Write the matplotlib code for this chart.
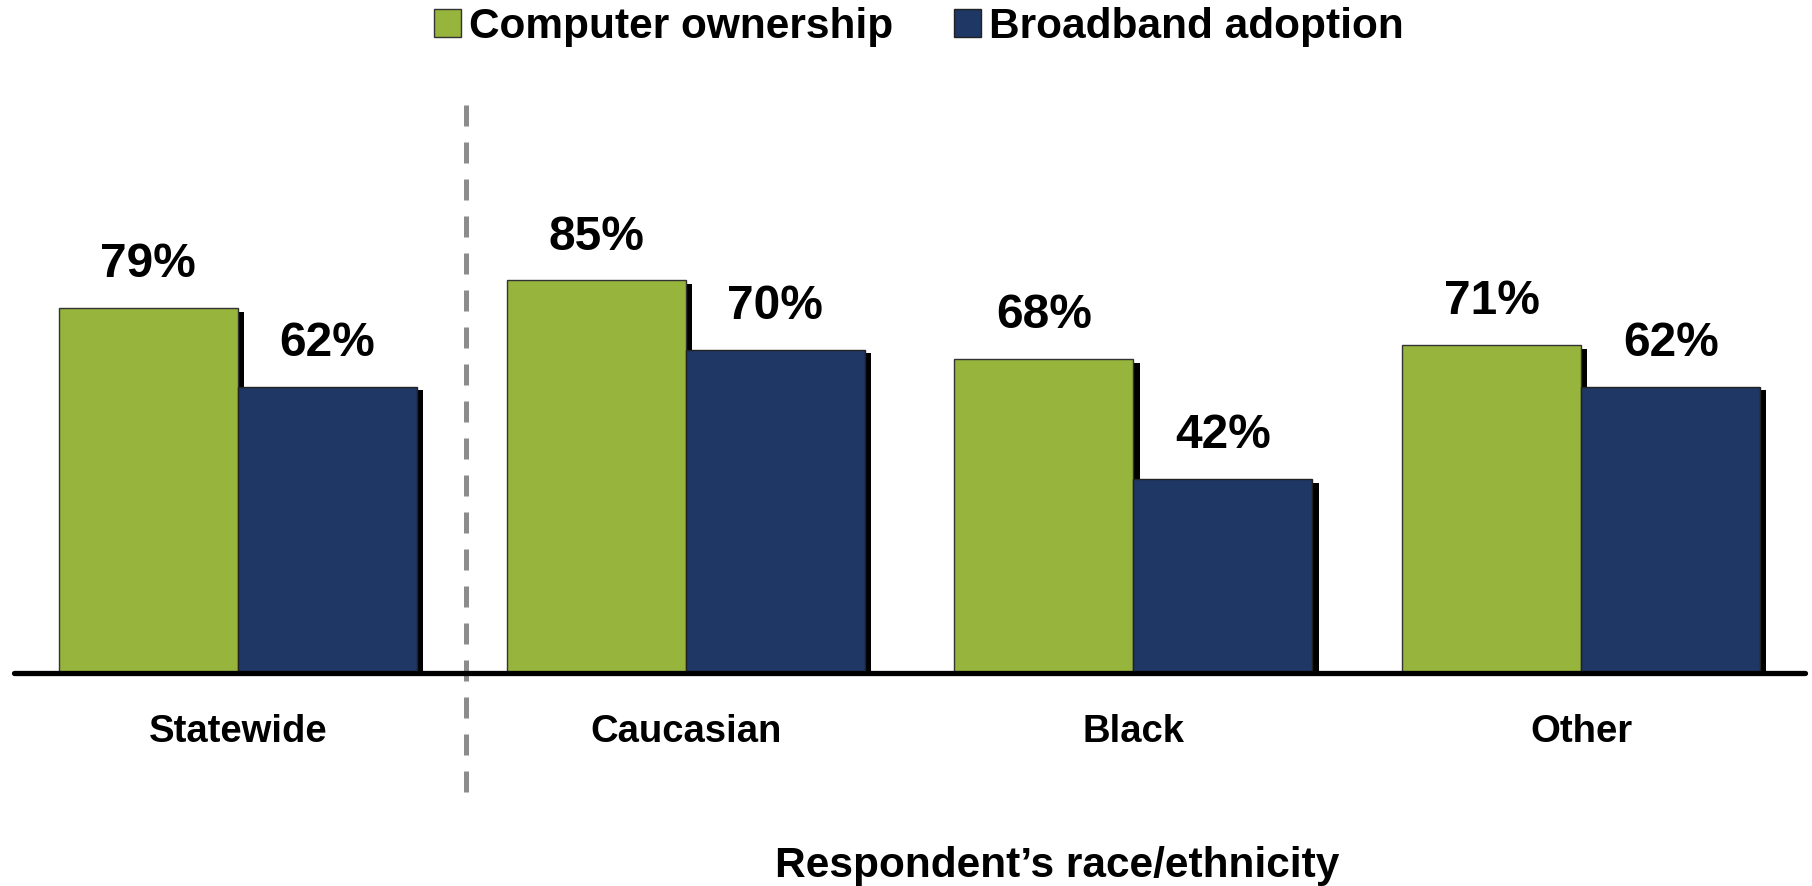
import matplotlib
matplotlib.use("Agg")
import matplotlib.pyplot as plt
from matplotlib.patches import Patch
import matplotlib.patheffects as pe

categories = ["Statewide", "Caucasian", "Black", "Other"]
computer = [79, 85, 68, 71]
broadband = [62, 70, 42, 62]
series_names = ["Computer ownership", "Broadband adoption"]
value_labels_c = ["79%", "85%", "68%", "71%"]
value_labels_b = ["62%", "70%", "42%", "62%"]
xtitle = "Respondent\u2019s race/ethnicity"

GREEN = "#97B43D"
BLUE = "#1E3764"

plt.rcParams["font.family"] = ["Liberation Sans", "DejaVu Sans"]
plt.rcParams["font.weight"] = "bold"

W, H = 1812, 886
fig = plt.figure(figsize=(W / 100, H / 100), dpi=100)
ax = fig.add_axes([14 / W, (H - 673) / H, 1791 / W, 462 / H])
ax.set_xlim(-0.5, 3.5)
ax.set_ylim(0, 100)
ax.axis("off")

x = list(range(len(categories)))
bw = 0.4
shadow = [pe.SimplePatchShadow(offset=(4.5, -2.8), shadow_rgbFace="black", alpha=1.0), pe.Normal()]

bars_c = ax.bar([i - bw / 2 for i in x], computer, width=bw, color=GREEN,
                edgecolor="#333333", linewidth=1.0, zorder=2)
bars_b = ax.bar([i + bw / 2 for i in x], broadband, width=bw, color=BLUE,
                edgecolor="#222222", linewidth=1.0, zorder=3)
for b in list(bars_c) + list(bars_b):
    b.set_path_effects(shadow)

for bars, labs in ((bars_c, value_labels_c), (bars_b, value_labels_b)):
    for b, lab in zip(bars, labs):
        ax.annotate(lab, (b.get_x() + b.get_width() / 2, b.get_height()),
                    xytext=(0, 22), textcoords="offset points",
                    ha="center", va="baseline", fontsize=34.5, fontweight="bold",
                    annotation_clip=False)

# baseline
ax.plot([-0.5, 3.5], [0, 0], color="black", linewidth=3.8, solid_capstyle="round",
        clip_on=False, zorder=5)

# dashed separator
ax.plot([0.51, 0.51], [-25.8, 123.4], color="#8C8C8C", linewidth=3.6,
        dashes=(4.2, 3.2), clip_on=False, zorder=4)

# category labels
for i, c in zip(x, categories):
    ax.text(i, -14.9, c, ha="center", va="baseline", fontsize=27.5, fontweight="bold")

# axis title
fig.text(1057 / W, 1 - 877 / H, xtitle, ha="center", va="baseline",
         fontsize=30.5, fontweight="bold")

handles = [Patch(facecolor=GREEN, edgecolor="#333333", linewidth=1.0),
           Patch(facecolor=BLUE, edgecolor="#222222", linewidth=1.0)]
leg = fig.legend(handles, series_names, loc="center", bbox_to_anchor=(919 / W, 1 - 27 / H),
                 ncol=2, frameon=False, prop={"size": 30.5, "weight": "bold"},
                 handlelength=0.62, handleheight=0.62, handletextpad=0.19,
                 columnspacing=1.45, borderpad=0, borderaxespad=0)

fig.savefig("out.png", dpi=100, facecolor="white")
